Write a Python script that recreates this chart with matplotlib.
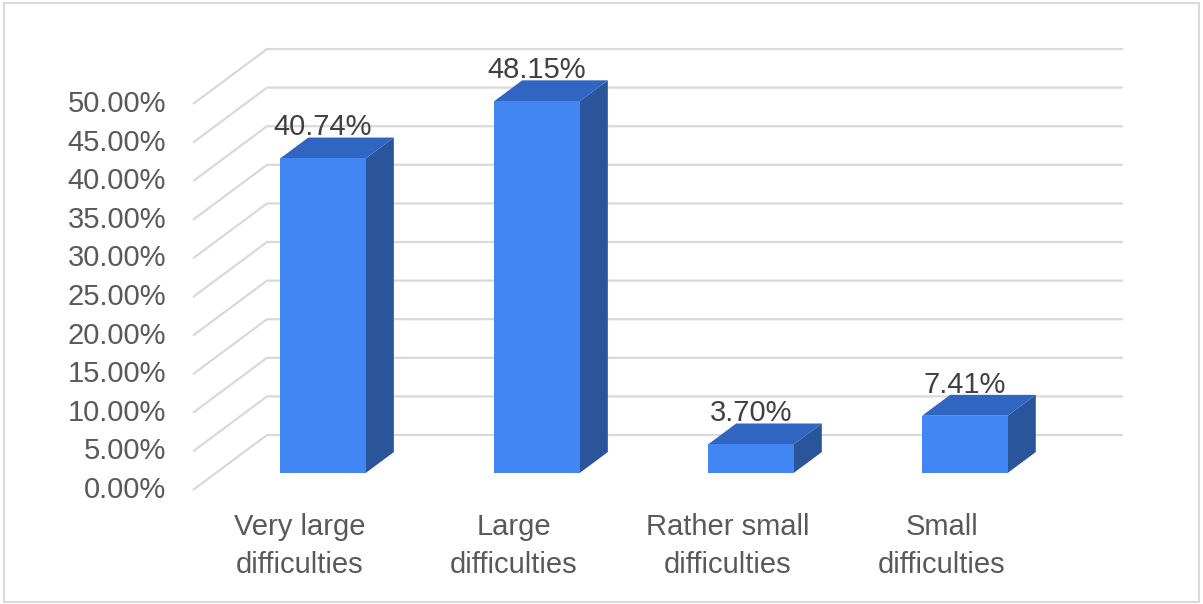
import matplotlib
matplotlib.use("Agg")
import matplotlib.pyplot as plt
from matplotlib.patches import Polygon, Rectangle

plt.rcParams['font.family'] = ['Liberation Sans', 'DejaVu Sans']

categories = ["Very large\ndifficulties", "Large\ndifficulties",
              "Rather small\ndifficulties", "Small\ndifficulties"]
values = [40.74, 48.15, 3.70, 7.41]
value_labels = ["40.74%", "48.15%", "3.70%", "7.41%"]
ticks = [0, 5, 10, 15, 20, 25, 30, 35, 40, 45, 50]
tick_labels = ["%.2f%%" % t for t in ticks]

# oblique "3D" look: full depth offset in data units
DX = 0.3458
DY = 7.12
BAR_W = 0.40
D_FRONT = 0.31
D_BACK = 0.69

GRID = '#d9d9d9'
FRONT = '#4286f4'
TOP = '#3065c1'
SIDE = '#2a559b'


def proj(x, v, d):
    return (x + DX * d, v + DY * d)


fig = plt.figure(figsize=(12.03, 6.04), dpi=100)
ax = fig.add_axes([0, 0, 1, 1])
ax.set_xlim(-1.402, 4.220)
ax.set_ylim(-14.77, 63.47)
ax.axis('off')

# back wall gridlines with the diagonal side wall
x_left = -0.5
x_right = len(categories) - 0.5
for t in ticks:
    p0 = proj(x_left, t, 0)
    p1 = proj(x_left, t, 1)
    p2 = proj(x_right, t, 1)
    ax.plot([p0[0], p1[0], p2[0]], [p0[1], p1[1], p2[1]],
            color=GRID, lw=1.6, solid_capstyle='butt', zorder=1)

for t, lab in zip(ticks, tick_labels):
    ax.text(-0.626, t, lab, ha='right', va='center', fontsize=21,
            color='#595959')

# bars: front, top and right side faces
for i, v in enumerate(values):
    xl = i - BAR_W / 2
    xr = i + BAR_W / 2
    front = [proj(xl, 0, D_FRONT), proj(xr, 0, D_FRONT),
             proj(xr, v, D_FRONT), proj(xl, v, D_FRONT)]
    top = [proj(xl, v, D_FRONT), proj(xr, v, D_FRONT),
           proj(xr, v, D_BACK), proj(xl, v, D_BACK)]
    side = [proj(xr, 0, D_FRONT), proj(xr, 0, D_BACK),
            proj(xr, v, D_BACK), proj(xr, v, D_FRONT)]
    ax.add_patch(Polygon(side, closed=True, fc=SIDE, ec='none', zorder=3))
    ax.add_patch(Polygon(top, closed=True, fc=TOP, ec='none', zorder=3))
    ax.add_patch(Polygon(front, closed=True, fc=FRONT, ec='none', zorder=4))

    lx, ly = proj(i, v, D_BACK)
    ax.text(i + DX * D_FRONT, ly + 0.3, value_labels[i], ha='center',
            va='baseline', fontsize=21, color='#404040', zorder=5)

for i, c in enumerate(categories):
    ax.text(i, -3.0, c, ha='center', va='top', fontsize=21,
            color='#595959', linespacing=1.45)

fig.add_artist(Rectangle((0.003, 0.003), 0.994, 0.992, transform=fig.transFigure,
                         fill=False, ec='#d9d9d9', lw=1.5))

fig.savefig("out.png", dpi=100)
